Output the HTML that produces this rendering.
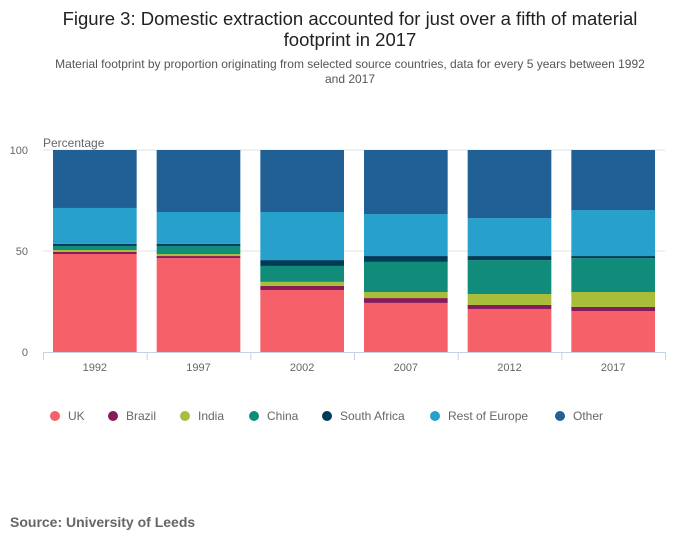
<!DOCTYPE html>
<html><head><meta charset="utf-8"><style>
body{margin:0;background:#fff;font-family:"Liberation Sans",sans-serif;}
#wrap{position:relative;width:700px;height:549px;overflow:hidden}
</style></head><body>
<div id="wrap">
<svg id="svg" width="700" height="549" xmlns="http://www.w3.org/2000/svg">
<text x="350" y="25" text-anchor="middle" font-size="18.5" fill="#222">Figure 3: Domestic extraction accounted for just over a fifth of material</text>
<text x="350" y="46" text-anchor="middle" font-size="18.5" fill="#222">footprint in 2017</text>
<text x="350" y="68" text-anchor="middle" font-size="12" fill="#555">Material footprint by proportion originating from selected source countries, data for every 5 years between 1992</text>
<text x="350" y="83" text-anchor="middle" font-size="12" fill="#555">and 2017</text>
<text x="43" y="147" font-size="12" fill="#666">Percentage</text>
<g id="grid"></g><g id="bars"></g><g id="axis"></g><g id="legend"></g>
<text x="10" y="527" font-size="14" font-weight="bold" fill="#666">Source: University of Leeds</text>
</svg></div>
<script>
const categories=["1992","1997","2002","2007","2012","2017"];
const seriesNames=["UK","Brazil","India","China","South Africa","Rest of Europe"];
const uk=[48.5,46.5,30.7,24.3,21.3,20.3];
const brazil=[1,1,2,2.4,2,2];
const india=[1,1,2,3,5.4,7.4];
const china=[2,4,7.9,14.9,16.8,16.8];
const southAfrica=[1,1,2.9,2.9,2,1];
const restOfEurope=[17.8,15.8,23.8,20.8,18.8,22.8];
const yTicks=[0,50,100];
const colors=["#f66068","#871a5b","#a8bd3a","#118c7b","#003c57","#27a0cc","#206095"];
const NS="http://www.w3.org/2000/svg";
const x0=43,x1=665,yBase=352,yTop=150;
const y=v=>yBase-(v/100)*(yBase-yTop);
const bw=(x1-x0)/categories.length;
const xb=i=>x0+i*bw+10;
function mk(t,a,p){const e=document.createElementNS(NS,t);for(const k in a)e.setAttribute(k,a[k]);p.appendChild(e);return e;}
const grid=document.getElementById('grid'),bars=document.getElementById('bars'),axis=document.getElementById('axis'),legend=document.getElementById('legend');
yTicks.forEach(t=>{
 if(t>0){const l=mk('line',{x1:x0,x2:x1,y1:y(t),y2:y(t),stroke:'#e0e0e0'},grid);
 
 }
 const tx=mk('text',{x:28,y:y(t)+4,'text-anchor':'end','font-size':11,fill:'#666'},grid);tx.textContent=t;
 
 
});
const series=[uk,brazil,india,china,southAfrica,restOfEurope];
categories.forEach((c,i)=>{
 let cum=0;
 const vals=series.map(s=>s[i]);
 const other=100-vals.reduce((a,b)=>a+b,0);
 vals.push(other);
 vals.forEach((v,j)=>{
  const r=mk('rect',{x:xb(i),y:y(cum+v),width:bw-20,height:y(cum)-y(cum+v),fill:colors[j]},bars);
  
  
  cum+=v;
 });
 const tx=mk('text',{x:x0+i*bw+bw/2,y:371,'text-anchor':'middle','font-size':11,fill:'#666'},axis);tx.textContent=c;
 
 
});
mk('line',{x1:x0,x2:x1,y1:352.5,y2:352.5,stroke:'#c4d3e8'},axis);
for(let i=0;i<=categories.length;i++)mk('line',{x1:x0+i*bw+.5,x2:x0+i*bw+.5,y1:352,y2:360,stroke:'#c4d3e8'},axis);
const names=seriesNames.concat(["Other"]);
const lx=[55,113,185,254,327,435,560];
names.forEach((n,j)=>{
 const g=mk('g',{},legend);
 
 
 mk('circle',{cx:lx[j],cy:416,r:5,fill:colors[j]},g);
 const t=mk('text',{x:lx[j]+13,y:420,'font-size':12,fill:'#666'},g);t.textContent=n;
});
</script>
</body></html>
